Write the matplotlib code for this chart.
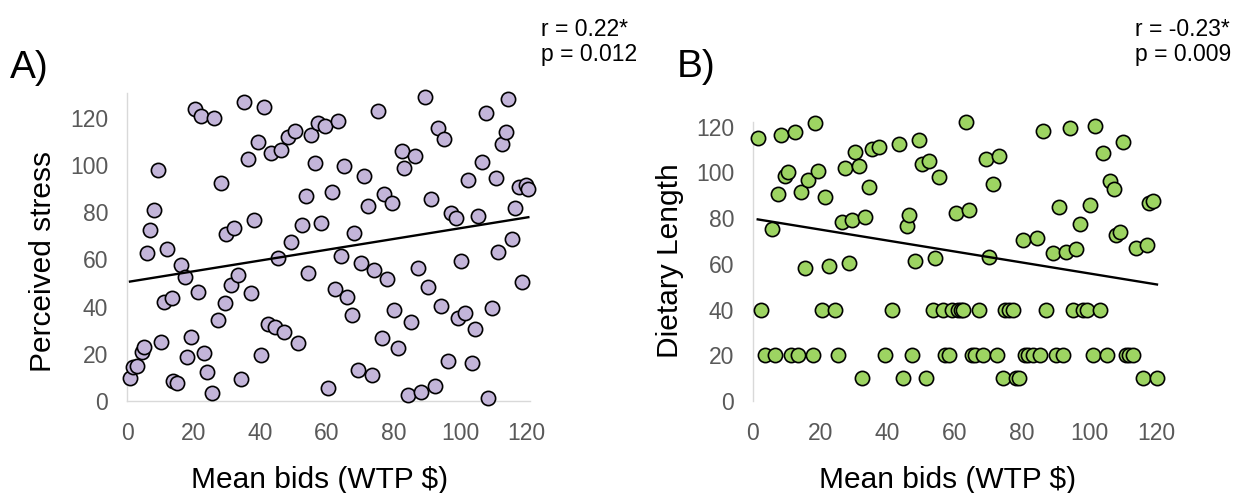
import numpy as np
import matplotlib
matplotlib.use("Agg")
import matplotlib.pyplot as plt

plt.rcParams['font.family'] = ['Liberation Sans', 'DejaVu Sans']

# Panel A: Mean bids vs perceived stress
bids_a = [0.9, 1.9, 2.9, 4.4, 5.2, 6.1, 6.9, 8.2, 9.2, 10.1, 11.0, 12.1, 13.4, 13.9, 15.1,
          16.2, 17.4, 18.1, 19.2, 20.4, 21.4, 22.2, 23.2, 23.9, 25.4, 26.1, 27.3, 28.3, 29.3,
          29.8, 31.3, 32.1, 33.3, 34.1, 35.1, 36.3, 37.3, 38.0, 39.3, 40.1, 41.0, 42.3, 43.1,
          44.5, 45.3, 46.1, 47.0, 48.3, 49.1, 50.3, 51.3, 52.5, 53.6, 54.3, 55.3, 56.5, 57.3,
          58.1, 59.5, 60.3, 61.5, 62.5, 63.3, 64.3, 65.3, 66.1, 67.5, 68.3, 69.5, 70.3, 71.3,
          72.3, 73.5, 74.2, 75.5, 76.5, 77.2, 78.2, 79.5, 80.2, 81.5, 82.5, 83.2, 84.4, 85.2,
          86.4, 87.5, 88.4, 89.4, 90.4, 91.2, 92.5, 93.5, 94.4, 95.2, 96.5, 97.2, 98.7, 99.4,
          100.2, 101.5, 102.4, 103.5, 104.5, 105.5, 106.5, 107.7, 108.5, 109.7, 110.7, 111.5,
          112.5, 113.7, 114.5, 115.7, 116.5, 117.7, 118.5, 119.7, 120.5]
stress = [9.9, 14.3, 15.0, 20.9, 23.0, 62.6, 72.5, 80.9, 97.9, 25.1, 42.1, 64.3, 43.5, 8.5, 7.5,
          57.6, 52.4, 18.5, 27.2, 123.7, 46.3, 120.9, 20.2, 12.4, 3.3, 119.8, 34.3, 92.5, 41.4,
          70.6, 49.2, 73.4, 53.4, 9.2, 126.6, 102.4, 45.6, 76.7, 109.9, 19.5, 124.7, 32.5, 104.9,
          31.5, 60.5, 106.4, 29.4, 111.7, 67.5, 114.5, 24.4, 74.6, 86.9, 54.4, 112.7, 100.7, 117.7,
          75.6, 116.7, 5.4, 88.7, 47.3, 118.8, 61.4, 99.7, 44.2, 36.4, 71.3, 13.1, 58.3, 95.5,
          82.6, 11.0, 55.5, 122.9, 26.6, 87.6, 51.6, 83.8, 38.6, 22.3, 105.9, 98.6, 2.5, 33.6,
          103.8, 56.5, 3.9, 128.9, 48.4, 85.6, 6.4, 115.8, 40.3, 110.9, 17.1, 79.5, 77.4, 35.0,
          59.3, 37.2, 93.6, 16.2, 30.4, 78.4, 101.4, 121.9, 1.1, 39.3, 94.6, 63.3,
          108.8, 113.9, 128.0, 68.5, 81.6, 90.5, 50.6, 91.5, 89.7]
# trend line: (intercept, slope)
trend_a = (50.4, 0.228)

# Panel B: Mean bids vs dietary length
bids_b = [1.4, 2.4, 3.7, 5.6, 6.5, 7.5, 8.3, 9.5, 10.5, 11.3, 12.6, 13.5, 14.3, 15.6, 16.4,
          17.7, 18.5, 19.4, 20.5, 21.5, 22.5, 24.4, 25.4, 26.4, 27.3, 28.6, 29.4, 30.4, 31.4,
          32.4, 33.4, 34.4, 35.4, 37.5, 39.3, 41.3, 43.5, 44.5, 45.7, 46.5, 47.3, 48.3, 49.4,
          50.2, 51.4, 52.4, 53.4, 54.2, 55.4, 56.4, 57.2, 58.3, 59.3, 60.3, 60.8, 61.8, 62.3,
          63.3, 64.3, 65.1, 66.1, 67.3, 68.5, 69.2, 70.2, 71.4, 72.4, 73.2, 74.2, 75.0, 76.0,
          77.2, 78.1, 79.1, 80.3, 80.9, 81.9, 83.1, 84.3, 85.3, 86.3, 87.1, 89.3, 90.0, 91.0,
          92.2, 93.2, 94.3, 95.0, 96.0, 97.3, 98.0, 99.2, 100.2, 101.2, 101.7, 103.1, 104.1,
          105.2, 106.1, 107.4, 107.9, 109.1, 109.9, 110.8, 111.8, 113.0, 114.0, 115.8, 117.1,
          117.8, 118.8, 120.1]
diet = [115.0, 40, 20, 75.3, 20, 90.6, 116.4, 98.5, 100.1, 20, 117.6, 20, 91.6, 58.3, 96.7,
        20, 121.5, 100.8, 40, 89.4, 59.2, 40, 20, 78.5, 101.8, 60.3, 79.2, 109.1, 103.0,
        10, 80.4, 93.8, 110.1, 111.0, 20, 40, 112.3, 10, 76.6, 81.4, 20, 61.3, 114.2,
        103.7, 10, 105.0, 40, 62.4, 97.9, 40, 20, 20, 40, 82.4, 40, 40, 40,
        122.2, 83.6, 20, 20, 40, 20, 105.9, 63.2, 95.0, 20, 107.2, 10, 40, 40,
        40, 10, 10, 70.5, 20, 20, 20, 71.5, 20, 118.3, 40, 64.6, 20, 84.8,
        20, 65.1, 119.3, 40, 66.4, 77.5, 40, 40, 85.8, 20, 120.4, 40, 108.4,
        20, 96.4, 92.6, 72.6, 73.8, 113.2, 20, 20, 20, 67.1, 10, 68.3,
        86.5, 87.7, 10]
trend_b = (79.8, -0.24)

yticks = [0, 20, 40, 60, 80, 100, 120]
xticks = [0, 20, 40, 60, 80, 100, 120]

W, H = 1238, 493
fig = plt.figure(figsize=(W / 100, H / 100), dpi=100)

def px_rect(left, right, bottom, top):
    return [left / W, (H - bottom) / H, (right - left) / W, (bottom - top) / H]

spine_col = '#d9d9d9'
tick_col = '#595959'

def style(ax, show_bottom):
    for s in ['top', 'right']:
        ax.spines[s].set_visible(False)
    ax.spines['left'].set_color(spine_col)
    ax.spines['left'].set_linewidth(1.0)
    if show_bottom:
        ax.spines['bottom'].set_color(spine_col)
        ax.spines['bottom'].set_linewidth(1.0)
    else:
        ax.spines['bottom'].set_visible(False)
    ax.set_xticks(xticks)
    ax.set_yticks(yticks)
    ax.tick_params(length=0, labelsize=16.5, labelcolor=tick_col)
    ax.tick_params(axis='y', pad=13.5)
    ax.tick_params(axis='x', pad=15)
    ax.patch.set_alpha(0)

def draw(ax, xs, ys, color, trend):
    ax.scatter(xs, ys, s=105, facecolor=color, edgecolor='black', linewidth=1.2,
               clip_on=False, zorder=3)
    xarr = np.array(xs)
    xl = np.array([xarr.min(), xarr.max()])
    ax.plot(xl, trend[0] + trend[1] * xl, color='black', lw=1.7, zorder=4, clip_on=False)

# Panel A
axA = fig.add_axes(px_rect(127, 530, 401, 93))
draw(axA, bids_a, stress, '#c3b5d9', trend_a)
axA.set_xlim(0, 121)
axA.set_ylim(0, 130.5)
style(axA, True)

# Panel B
axB = fig.add_axes(px_rect(753, 1160, 401, 121.7))
draw(axB, bids_b, diet, '#9dd462', trend_b)
axB.set_xlim(0, 121)
axB.set_ylim(0, 122.2)
style(axB, False)

def fx(x):
    return x / W

def fy(y):
    return (H - y) / H

# Axis labels
fig.text(fx(43), fy(261), 'Perceived stress', rotation=90, ha='center', va='center', fontsize=21.5)
fig.text(fx(670), fy(261), 'Dietary Length', rotation=90, ha='center', va='center', fontsize=21.5)
fig.text(fx(320), fy(488), 'Mean bids (WTP $)', ha='center', va='baseline', fontsize=21.5)
fig.text(fx(948), fy(488), 'Mean bids (WTP $)', ha='center', va='baseline', fontsize=21.5)

# Panel letters
fig.text(fx(10), fy(78), 'A)', ha='left', va='baseline', fontsize=28)
fig.text(fx(677), fy(77), 'B)', ha='left', va='baseline', fontsize=28)

# Stats
fig.text(fx(541), fy(36), 'r = 0.22*', ha='left', va='baseline', fontsize=16.5)
fig.text(fx(541), fy(61), 'p = 0.012', ha='left', va='baseline', fontsize=16.5)
fig.text(fx(1135), fy(36), 'r = -0.23*', ha='left', va='baseline', fontsize=16.5)
fig.text(fx(1135), fy(61), 'p = 0.009', ha='left', va='baseline', fontsize=16.5)

fig.savefig('out.png', dpi=100)
